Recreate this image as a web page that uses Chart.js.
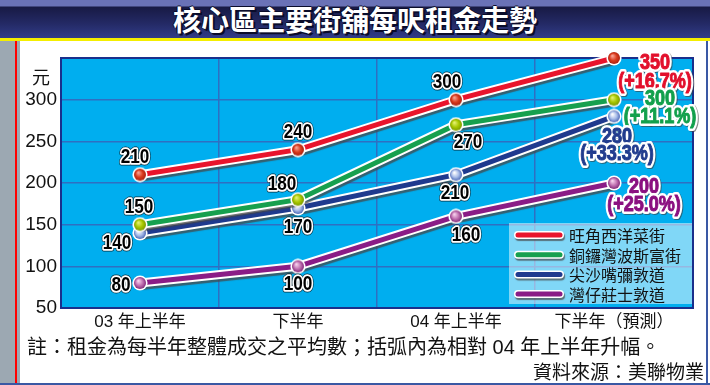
<!DOCTYPE html>
<html>
<head>
<meta charset="utf-8">
<script src="https://cdn.jsdelivr.net/npm/chart.js@4/dist/chart.umd.min.js"></script>
<style>
  body { margin: 0; width: 710px; height: 385px; overflow: hidden; background: #fff; position: relative; font-family: "Noto Sans CJK TC", sans-serif; }
  .abs { position: absolute; }
  #bar { left: 0; top: 0; width: 710px; height: 38px;
    background: linear-gradient(#6a72b6 0, #6a72b6 6px, #181a44 7px, #242a66 24px, #313c88 38px); }
  #title { left: 0; top: 0; width: 710px; height: 38px; line-height: 38px; text-align: center;
    color: #fff; font-weight: bold; font-size: 28px;
    text-shadow: 2px 2px 0 #0a0c2a, -1px 0 0 #0a0c2a, 0 -1px 0 #0a0c2a; }
  #yellow { left: 0; top: 38px; width: 710px; height: 3px; background: #f4ee00; }
  #leftStrip { left: 0; top: 41px; width: 20px; height: 344px; background: #9ca8b2; }
  #redLine { left: 15px; top: 41px; width: 2px; height: 344px; background: #f00; }
  #rightLine { left: 706px; top: 41px; width: 2px; height: 344px; background: #3a58a4; }
  #bottomLine { left: 0; top: 383px; width: 710px; height: 2px; background: #3a58a4; }
  #yuan { left: 32px; top: 65px; font-size: 18px; line-height: 22px; color: #111; }
  #note { left: 27px; top: 335px; font-size: 20px; line-height: 24px; color: #111; white-space: nowrap;
    font-family: "Liberation Sans", "Noto Sans CJK TC", sans-serif; }
  #source { right: 6px; top: 359px; font-size: 19px; line-height: 24px; color: #111; white-space: nowrap; }
</style>
</head>
<body>
<div id="bar" class="abs"></div>
<div id="title" class="abs">核心區主要街舖每呎租金走勢</div>
<div id="yellow" class="abs"></div>
<div id="leftStrip" class="abs"></div>
<div id="redLine" class="abs"></div>
<div id="rightLine" class="abs"></div>
<div id="bottomLine" class="abs"></div>
<canvas id="rentChart" class="abs" width="710" height="385" style="left:0;top:0"></canvas>
<div id="yuan" class="abs">元</div>
<div id="note" class="abs">註：租金為每半年整體成交之平均數；括弧內為相對 04 年上半年升幅。</div>
<div id="source" class="abs">資料來源：美聯物業</div>

<script>
// data
const periods = ['03 年上半年', '下半年', '04 年上半年', '下半年（預測）']
const mongkok = [210, 240, 300, 350]
const causewayBay = [150, 180, 270, 300]
const tsimShaTsui = [140, 170, 210, 280]
const wanChai = [80, 100, 160, 200]
const streetNames = ['旺角西洋菜街', '銅鑼灣波斯富街', '尖沙嘴彌敦道', '灣仔莊士敦道']
const forecastChange = ['+16.7%', '+11.1%', '+33.3%', '+25.0%']
const yMin = 50, yMax = 350, yStep = 50

// styling
const lineColors = ['#e8142c', '#17a04e', '#1f3a8e', '#8a1c86']
const textColors = ['#e2102c', '#12a04c', '#213c8e', '#8a1080']
const sphereColors = [
  ['#f7a090', '#d93a1c', '#a82010'],
  ['#e4f070', '#a8c800', '#7a9800'],
  ['#ffffff', '#a8bce8', '#4a66b4'],
  ['#f6d0ec', '#c070b0', '#802878']
]
// label offsets from point (text centre), last one is for the two-line forecast label
const labelOffsets = [
  [[-5, -17], [0, -17], [-9, -17], [41, 5, 24]],
  [[-1, -17], [-16, -15], [12, 18], [46, -1, 17]],
  [[-23, 10], [0, 19], [-1, 19], [3, 21, 38]],
  [[-19, 2], [0, 18], [10, 19], [30, 4, 22]]
]
const NUM_FONT = '"Liberation Sans", Arial, sans-serif'

function makeSphere(c) {
  const cv = document.createElement('canvas')
  cv.width = 16; cv.height = 16
  const g = cv.getContext('2d')
  g.beginPath(); g.arc(8, 8, 7.6, 0, Math.PI * 2); g.fillStyle = '#fff'; g.fill()
  const grad = g.createRadialGradient(6.3, 5.8, 0.5, 8, 8, 6.2)
  grad.addColorStop(0, c[0]); grad.addColorStop(0.55, c[1]); grad.addColorStop(1, c[2])
  g.beginPath(); g.arc(8, 8, 6, 0, Math.PI * 2); g.fillStyle = grad; g.fill()
  return cv
}

// squeezed text, the original uses a condensed face
function narrowText(ctx, txt, x, y, squeeze, draw) {
  ctx.save()
  ctx.translate(x, y)
  ctx.scale(squeeze, 1)
  draw(txt)
  ctx.restore()
}

const plotFrame = {
  id: 'plotFrame',
  beforeDraw(chart) {
    const {ctx, chartArea: a} = chart
    ctx.save()
    ctx.fillStyle = '#00aeef'
    ctx.fillRect(a.left, a.top, a.width, a.height)
    ctx.restore()
  },
  beforeDatasetsDraw(chart) {
    const {ctx, chartArea: a} = chart
    ctx.save()
    ctx.strokeStyle = '#1a2f8c'
    ctx.lineWidth = 2
    ctx.strokeRect(a.left, a.top, a.width, a.height)
    ctx.restore()
  },
  beforeDatasetDraw(chart, args) {
    // white casing with grey drop shadow under each line
    const ctx = chart.ctx
    const pts = args.meta.data
    ctx.save()
    ctx.lineJoin = 'round'; ctx.lineCap = 'round'
    ctx.strokeStyle = '#fff'; ctx.lineWidth = 9
    ctx.shadowColor = 'rgba(70,70,70,0.75)'
    ctx.shadowOffsetX = 1; ctx.shadowOffsetY = 2.5; ctx.shadowBlur = 1
    ctx.beginPath()
    pts.forEach((p, i) => i ? ctx.lineTo(p.x, p.y) : ctx.moveTo(p.x, p.y))
    ctx.stroke()
    ctx.restore()
  }
}

const valueLabels = {
  id: 'valueLabels',
  afterDatasetsDraw(chart) {
    const ctx = chart.ctx
    ctx.save()
    ctx.textAlign = 'center'
    ctx.textBaseline = 'middle'
    ctx.lineJoin = 'round'
    chart.data.datasets.forEach((ds, i) => {
      const pts = chart.getDatasetMeta(i).data
      pts.forEach((p, j) => {
        const off = labelOffsets[i][j]
        if (j === pts.length - 1) {
          ctx.font = 'bold 22px ' + NUM_FONT
          const lines = [[String(ds.data[j]), off[1]], ['(' + forecastChange[i] + ')', off[2]]]
          lines.forEach(([txt, dy]) => {
            narrowText(ctx, txt, p.x + off[0], p.y + dy, 0.82, t => {
              ctx.save()
              ctx.shadowColor = 'rgba(60,60,60,0.6)'; ctx.shadowOffsetX = 1; ctx.shadowOffsetY = 1
              ctx.strokeStyle = '#fff'; ctx.lineWidth = 6
              ctx.strokeText(t, 0, 0)
              ctx.restore()
              ctx.fillStyle = textColors[i]
              ctx.fillText(t, 0, 0)
              ctx.strokeStyle = textColors[i]; ctx.lineWidth = 1
              ctx.strokeText(t, 0, 0)
            })
          })
        } else {
          ctx.font = 'bold 20px ' + NUM_FONT
          narrowText(ctx, String(ds.data[j]), p.x + off[0], p.y + off[1], 0.86, t => {
            ctx.strokeStyle = 'rgba(0,0,0,0.75)'; ctx.lineWidth = 5
            ctx.strokeText(t, 0, 0)
            ctx.strokeStyle = '#fff'; ctx.lineWidth = 3.6
            ctx.strokeText(t, 0, 0)
            ctx.fillStyle = '#000'
            ctx.fillText(t, 0, 0)
          })
        }
      })
    })
    ctx.restore()
  }
}

const boxLegend = {
  id: 'boxLegend',
  afterDraw(chart) {
    const {ctx, chartArea: a} = chart
    const x0 = a.right - 184, y0 = a.bottom - 85
    ctx.save()
    ctx.fillStyle = 'rgba(255,255,255,0.5)'
    ctx.fillRect(x0, y0, 183, 81)
    ctx.font = '16px "Noto Sans CJK TC", sans-serif'
    ctx.textBaseline = 'middle'
    ctx.lineCap = 'round'
    chart.data.datasets.forEach((ds, i) => {
      const y = y0 + 12 + i * 19.7
      ctx.save()
      ctx.strokeStyle = '#fff'; ctx.lineWidth = 8
      ctx.shadowColor = 'rgba(70,70,70,0.7)'; ctx.shadowOffsetX = 1; ctx.shadowOffsetY = 2; ctx.shadowBlur = 1
      ctx.beginPath(); ctx.moveTo(x0 + 9, y); ctx.lineTo(x0 + 51, y); ctx.stroke()
      ctx.restore()
      ctx.strokeStyle = ds.borderColor; ctx.lineWidth = 5
      ctx.beginPath(); ctx.moveTo(x0 + 9, y); ctx.lineTo(x0 + 51, y); ctx.stroke()
      ctx.fillStyle = '#111'
      ctx.fillText(ds.label, x0 + 60, y + 1)
    })
    ctx.restore()
  }
}

const seriesData = [mongkok, causewayBay, tsimShaTsui, wanChai]

new Chart(document.getElementById('rentChart'), {
  type: 'line',
  data: {
    labels: periods,
    datasets: seriesData.map((vals, i) => ({
      label: streetNames[i],
      data: vals,
      borderColor: lineColors[i],
      backgroundColor: lineColors[i],
      borderWidth: 5,
      tension: 0,
      fill: false,
      clip: false,
      pointStyle: makeSphere(sphereColors[i]),
      pointRadius: 7
    }))
  },
  options: {
    responsive: false,
    animation: false,
    events: [],
    layout: { padding: { left: 0, top: 58, right: 17, bottom: 0 } },
    plugins: {
      legend: { display: false },
      tooltip: { enabled: false },
      title: { display: false }
    },
    scales: {
      x: {
        offset: true,
        grid: { offset: true, color: '#2f6fc2', lineWidth: 1.5, drawTicks: false },
        border: { display: false },
        ticks: { color: '#111', padding: 4, maxRotation: 0,
          font: { size: 17, family: '"Liberation Sans", "Noto Sans CJK TC", sans-serif' } },
        afterFit(scale) { scale.height = 77 }
      },
      y: {
        min: yMin,
        max: yMax,
        grid: { color: '#2f6fc2', lineWidth: 1.5, drawTicks: false },
        border: { display: false },
        ticks: {
          stepSize: yStep,
          color: '#111',
          padding: 4,
          font: { size: 19, family: NUM_FONT },
          callback: v => v === yMax ? '' : v
        },
        afterFit(scale) { scale.width = 61 }
      }
    }
  },
  plugins: [plotFrame, valueLabels, boxLegend]
})
</script>
</body>
</html>
